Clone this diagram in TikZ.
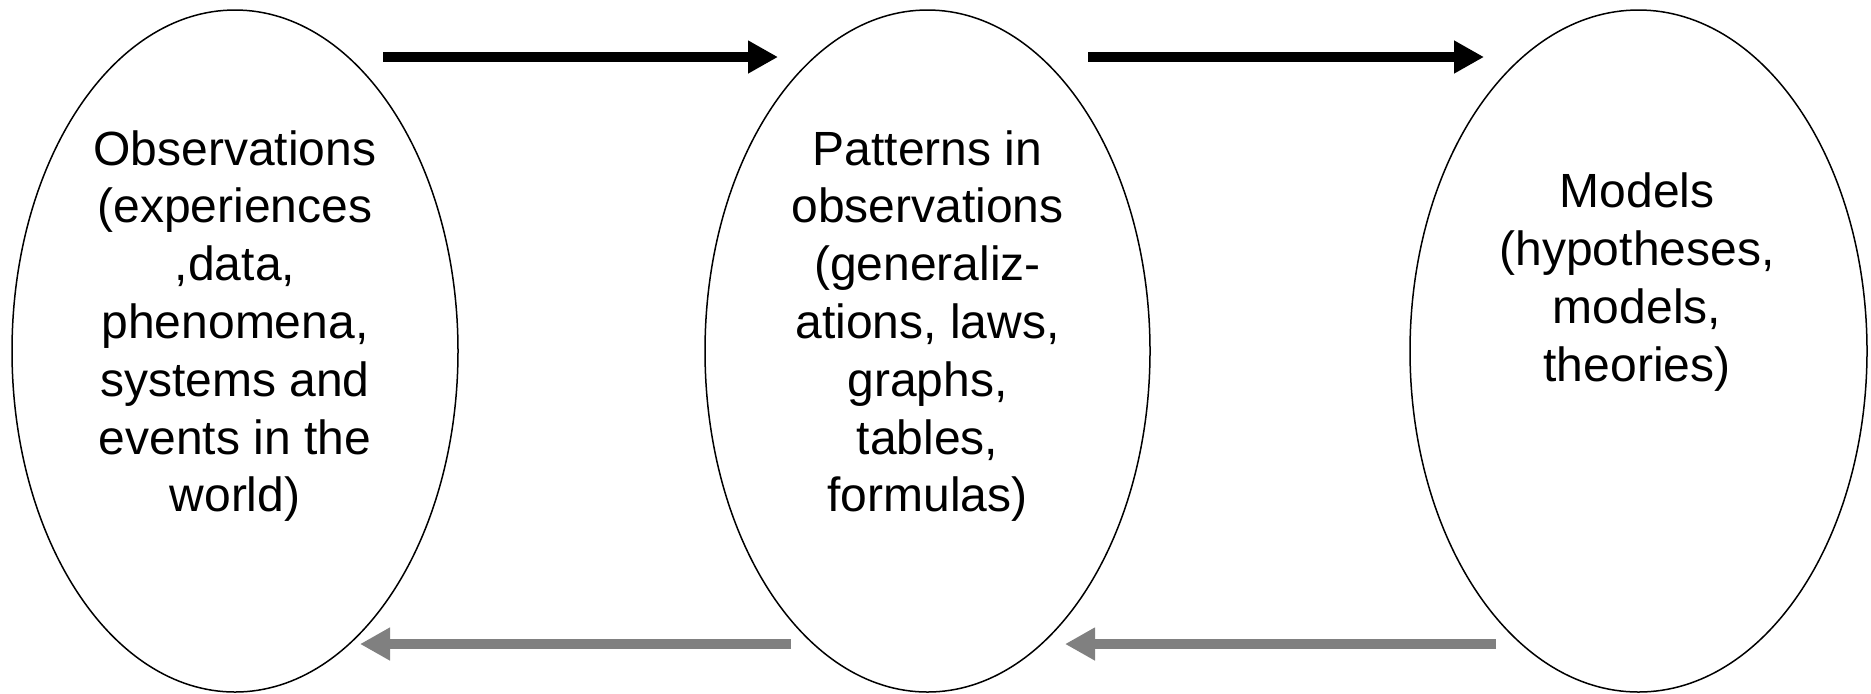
\documentclass[tikz,border=0pt]{standalone}
\usepackage{fontspec}
\setmainfont{Liberation Sans}
\usetikzlibrary{arrows.meta, shapes.geometric}
\tikzset{>=latex,
  bubble/.style={draw, ellipse, line width=0.75pt, inner sep=0pt, minimum height=341pt},
  bubbletext/.style={align=center, inner sep=0pt, font=\fontsize{24}{28.9}\selectfont},
  forward/.style={line width=4.8pt, -{Triangle[length=15pt, width=15.5pt]}},
  backward/.style={forward, gray}}

\begin{document}
\begin{tikzpicture}[x=0.5pt, y=-0.5pt]
\useasboundingbox (0,0) rectangle (1871,693);
\node[bubble, minimum width=223pt] (obs) at (235,351) {};
\node[bubble, minimum width=222.5pt] (pat) at (927.5,351) {};
\node[bubble, minimum width=228.5pt] (mod) at (1638.5,351) {};
\node[bubbletext] (obstext) at (235,326) {Observations\\(experiences\\,data,\\phenomena,\\systems and\\events in the\\world)};
\node[bubbletext] (pattext) at (927.5,326) {Patterns in\\observations\\(generaliz-\\ations, laws,\\graphs,\\tables,\\formulas)};
\node[bubbletext] (modtext) at (1637,282) {Models\\(hypotheses,\\models,\\theories)};
\draw[forward] ([shift={(148,-294)}]obs.center) -- ([shift={(-149.5,-294)}]pat.center);
\draw[forward] ([shift={(160.5,-294)}]pat.center) -- ([shift={(-154.5,-294)}]mod.center);
\draw[backward] ([shift={(-142.5,293)}]mod.center) -- ([shift={(137.5,293)}]pat.center);
\draw[backward] ([shift={(-136.5,293)}]pat.center) -- ([shift={(125,293)}]obs.center);
\end{tikzpicture}
\end{document}
